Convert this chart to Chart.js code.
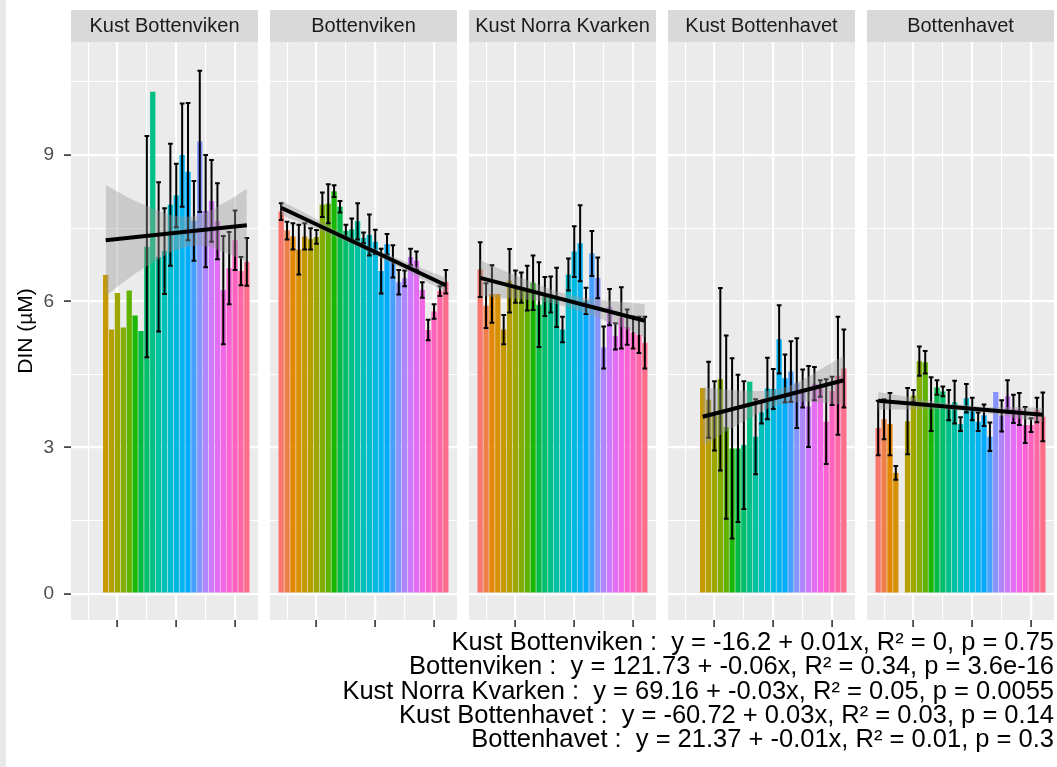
<!DOCTYPE html>
<html>
<head>
<meta charset="utf-8">
<script src="https://cdn.jsdelivr.net/npm/chart.js@4.4.1/dist/chart.umd.min.js"></script>
<style>
body { margin:0; background:#fff; width:1057px; height:767px; position:relative; overflow:hidden; font-family: Arial, "Liberation Sans", sans-serif; }
.edge { position:absolute; left:0; top:0; width:6px; height:767px; background:#e8e8e8; }
.panel { position:absolute; top:0; }
#eq { position:absolute; right:3px; top:629px; text-align:right; font-size:25.5px; line-height:24.3px; white-space:pre; color:#000; }
</style>
</head>
<body>
<div class="edge"></div>
<div class="panel" style="left:0"><canvas id="p0" width="258" height="632"></canvas></div>
<div class="panel" style="left:270px"><canvas id="p1" width="187" height="632"></canvas></div>
<div class="panel" style="left:469px"><canvas id="p2" width="187" height="632"></canvas></div>
<div class="panel" style="left:668px"><canvas id="p3" width="187" height="632"></canvas></div>
<div class="panel" style="left:867px"><canvas id="p4" width="187" height="632"></canvas></div>
<div id="eq"></div>
<script>
// YEARS AND REGIONS

const years = [1984,1985,1986,1987,1988,1989,1990,1991,1992,1993,1994,1995,1996,1997,1998,
               1999,2000,2001,2002,2003,2004,2005,2006,2007,2008,2009,2010,2011,2012];
const regions = ['Kust Bottenviken','Bottenviken','Kust Norra Kvarken','Kust Bottenhavet','Bottenhavet'];

// MEAN DIN (µM) PER YEAR, AND ERROR (HALF BAR)

const kustBottenvikenMean = [null,null,null,null,6.54,5.42,6.17,5.46,6.22,5.71,5.39,7.12,10.30,6.91,7.03,
                             7.98,8.17,9.00,8.66,7.65,9.28,7.85,8.06,7.64,6.23,6.68,7.25,6.62,6.81];
const kustBottenvikenErr  = [null,null,null,null,0,0,0,0,0,0,0,2.27,0,1.53,0.88,
                             1.25,0.65,1.06,1.41,0.82,1.45,1.15,0.84,0.78,1.11,0.74,0.61,0.29,0.49];

const bottenvikenMean = [7.84,7.45,7.33,7.06,7.33,7.28,7.32,7.98,8.00,8.26,7.94,7.44,7.48,7.64,7.30,
                         7.36,7.22,6.62,7.17,6.82,6.39,6.47,6.91,6.83,6.23,5.41,5.79,6.21,6.40];
const bottenvikenErr  = [0.17,0.18,0.27,0.51,0.27,0.22,0.14,0.25,0.40,0.12,0.12,0.13,0.22,0.37,0.11,
                         0.42,0.25,0.46,0.21,0.33,0.25,0.16,0.17,0.19,0.16,0.21,0.15,0.10,0.24];

const norraKvarkenMean = [6.65,5.91,6.15,6.15,5.42,6.42,6.30,6.28,6.27,6.38,5.93,6.10,6.14,6.08,5.42,
                          6.55,7.02,7.19,6.01,6.98,6.48,5.05,5.88,5.28,5.66,5.47,5.36,5.31,5.15];
const norraKvarkenErr  = [0.56,0.46,0.59,0,0.30,0.65,0.33,0.31,0.46,0.56,0.87,0.40,0.37,0.61,0.26,
                          0.33,0.52,0.78,0.27,0.46,0.42,0.43,0.37,0.27,0.63,0.36,0.33,0.37,0.53];

const kustBottenhavetMean = [null,null,null,null,4.22,3.98,3.65,4.40,3.42,2.98,2.98,3.05,4.35,3.22,3.72,
                             4.21,4.20,5.22,4.42,4.56,4.32,4.21,3.84,4.31,4.21,3.53,4.16,4.47,4.62];
const kustBottenhavetErr  = [null,null,null,null,0,0.78,0.71,1.87,1.88,1.85,1.51,1.31,0,0.77,0.23,
                             0.63,0.41,0.70,0.49,0.62,0.92,0.39,0.83,0.34,0.17,0.87,0.29,1.21,0.80];

const bottenhavetMean = [3.40,3.58,3.48,2.48,null,3.54,4.06,4.77,4.75,3.89,4.23,4.15,3.87,3.93,3.48,
                         4.01,3.79,3.53,3.66,3.22,4.14,3.65,4.05,3.79,3.79,3.46,3.46,3.77,3.63];
const bottenhavetErr  = [0.56,0.41,0.64,0.14,null,0.68,0.12,0.30,0.23,0.55,0.15,0.10,0.31,0.44,0.14,
                         0.29,0.23,0.19,0.22,0.29,0,0.32,0.33,0.29,0.33,0.37,0.14,0.25,0.50];

// LINEAR FIT (ENDPOINTS) AND CONFIDENCE BAND

const fitYears = [[1988,2012],[1984,2012],[1984,2012],[1988,2012],[1984,2012]];
const fitValues = [[7.25,7.56],[7.92,6.33],[6.48,5.60],[3.63,4.38],[3.96,3.67]];

const bandYears = [
    [1988,1992,1996,2000,2004,2008,2012],
    [1984,1989,1994,1998,2003,2008,2012],
    [1984,1989,1994,1998,2003,2008,2012],
    [1988,1992,1996,2000,2004,2008,2012],
    [1984,1989,1994,1998,2003,2008,2012]
];
const bandUpper = [
    [8.39,8.12,7.91,7.75,7.78,8.01,8.31],
    [8.07,7.75,7.42,7.18,6.92,6.67,6.48],
    [6.84,6.58,6.34,6.17,6.05,5.99,5.94],
    [4.23,4.19,4.16,4.18,4.33,4.60,4.88],
    [4.14,4.04,3.94,3.88,3.83,3.83,3.81]
];
const bandLower = [
    [6.11,6.48,6.79,7.05,7.14,7.01,6.81],
    [7.77,7.53,7.28,7.06,6.76,6.45,6.18],
    [6.12,6.06,6.00,5.91,5.71,5.47,5.26],
    [3.03,3.33,3.60,3.84,3.93,3.92,3.88],
    [3.78,3.78,3.78,3.76,3.69,3.59,3.53]
];

// AXES

const xGrid = [1985,1990,1995,2000,2005,2010];
const yGrid = [0,1.5,3,4.5,6,7.5,9,10.5];
const yLabels = [0,3,6,9];

const equations = [
    'Kust Bottenviken :  y = -16.2 + 0.01x, R\u00b2 = 0, p = 0.75',
    'Bottenviken :  y = 121.73 + -0.06x, R\u00b2 = 0.34, p = 3.6e-16',
    'Kust Norra Kvarken :  y = 69.16 + -0.03x, R\u00b2 = 0.05, p = 0.0055',
    'Kust Bottenhavet :  y = -60.72 + 0.03x, R\u00b2 = 0.03, p = 0.14',
    'Bottenhavet :  y = 21.37 + -0.01x, R\u00b2 = 0.01, p = 0.3'
];

const means = [kustBottenvikenMean, bottenvikenMean, norraKvarkenMean, kustBottenhavetMean, bottenhavetMean];
const errs = [kustBottenvikenErr, bottenvikenErr, norraKvarkenErr, kustBottenhavetErr, bottenhavetErr];


// ggplot hue palette (hcl, c=100, l=65)
function hcl(h, c, l) {
    const hr = h * Math.PI / 180;
    const U = c * Math.cos(hr), V = c * Math.sin(hr);
    const Xn = 95.047, Yn = 100, Zn = 108.883;
    const d = Xn + 15 * Yn + 3 * Zn;
    const un = 4 * Xn / d, vn = 9 * Yn / d;
    const Y = Yn * Math.pow((l + 16) / 116, 3);
    const u = U / (13 * l) + un, v = V / (13 * l) + vn;
    const X = 9 * Y * u / (4 * v);
    const Z = -X / 3 - 5 * Y + 3 * Y / v;
    const x = X / 100, y = Y / 100, z = Z / 100;
    const rgb = [
        3.240479 * x - 1.53715 * y - 0.498535 * z,
        -0.969256 * x + 1.875992 * y + 0.041556 * z,
        0.055648 * x - 0.204043 * y + 1.057311 * z
    ];
    const g = t => t <= 0.0031308 ? 12.92 * t : 1.055 * Math.pow(t, 1 / 2.4) - 0.055;
    const c8 = rgb.map(t => Math.round(255 * Math.min(1, Math.max(0, g(t)))));
    return 'rgb(' + c8.join(',') + ')';
}
const yearColors = years.map((y, i) => hcl(15 + 360 * i / years.length, 100, 65));

const isMajor = (v, step) => Math.abs(v / step - Math.round(v / step)) < 1e-6;


// strip background + panel background
const panelBg = {
    id: 'panelBg',
    beforeDraw(chart) {
        const { ctx, chartArea: a } = chart;
        ctx.save();
        ctx.fillStyle = '#d9d9d9';
        ctx.fillRect(a.left, 10, a.right - a.left, a.top - 10);
        ctx.fillStyle = '#ebebeb';
        ctx.fillRect(a.left, a.top, a.right - a.left, a.bottom - a.top);
        ctx.restore();
    }
};

// error bars, drawn just after the bars
const errorBars = {
    id: 'errorBars',
    afterDatasetDraw(chart, args) {
        if (args.index !== 0) return;
        const ds = chart.data.datasets[0];
        const xs = chart.scales.x, ys = chart.scales.y;
        const ctx = chart.ctx;
        ctx.save();
        ctx.strokeStyle = '#000';
        ctx.lineWidth = 2;
        ds.data.forEach((p, i) => {
            const e = ds.errors[i];
            if (!e) return;
            const x = xs.getPixelForValue(p.x);
            const hw = xs.getPixelForValue(p.x + 0.4) - x;
            const y1 = ys.getPixelForValue(p.y + e);
            const y2 = ys.getPixelForValue(p.y - e);
            ctx.beginPath();
            ctx.moveTo(x, y1); ctx.lineTo(x, y2);
            ctx.moveTo(x - hw, y1); ctx.lineTo(x + hw, y1);
            ctx.moveTo(x - hw, y2); ctx.lineTo(x + hw, y2);
            ctx.stroke();
        });
        ctx.restore();
    }
};

function makePanel(k) {
    const withAxis = k === 0;
    const barData = [], barColors = [], barErr = [];
    years.forEach((yr, i) => {
        if (means[k][i] === null) return;
        barData.push({ x: yr, y: means[k][i] });
        barColors.push(yearColors[i]);
        barErr.push(errs[k][i]);
    });

    new Chart(document.getElementById('p' + k), {
        type: 'bar',
        data: {
            datasets: [
                {
                    type: 'bar',
                    data: barData,
                    errors: barErr,
                    backgroundColor: barColors,
                    borderWidth: 0,
                    barPercentage: 0.9,
                    categoryPercentage: 1.0,
                    order: 3
                },
                {
                    type: 'line',
                    data: bandYears[k].map((y, i) => ({ x: y, y: bandUpper[k][i] })),
                    borderWidth: 0,
                    borderColor: 'rgba(0,0,0,0)',
                    pointRadius: 0,
                    tension: 0.4,
                    fill: '+1',
                    backgroundColor: 'rgba(153,153,153,0.4)',
                    order: 2
                },
                {
                    type: 'line',
                    data: bandYears[k].map((y, i) => ({ x: y, y: bandLower[k][i] })),
                    borderWidth: 0,
                    borderColor: 'rgba(0,0,0,0)',
                    pointRadius: 0,
                    tension: 0.4,
                    fill: false,
                    order: 2
                },
                {
                    type: 'line',
                    data: fitYears[k].map((y, i) => ({ x: y, y: fitValues[k][i] })),
                    borderColor: '#000',
                    borderWidth: 4,
                    pointRadius: 0,
                    fill: false,
                    order: 1
                }
            ]
        },
        options: {
            responsive: false,
            animation: false,
            events: [],
            layout: { padding: { top: 10, left: 0, right: 0, bottom: 0 } },
            plugins: {
                legend: { display: false },
                tooltip: { enabled: false },
                title: {
                    display: true,
                    text: regions[k],
                    fullSize: false,
                    color: '#1a1a1a',
                    font: { family: 'Arial', size: 20, weight: 'normal', lineHeight: 1.2 },
                    padding: { top: 4, bottom: 4 }
                }
            },
            scales: {
                x: {
                    type: 'linear',
                    offset: false,
                    min: 1982.1,
                    max: 2013.9,
                    afterBuildTicks: s => { s.ticks = xGrid.map(v => ({ value: v })); },
                    afterFit: s => { s.height = 12; s.paddingLeft = 0; s.paddingRight = 0; },
                    ticks: { callback: () => '', autoSkip: false, maxRotation: 0, padding: 0 },
                    grid: {
                        offset: false,
                        color: '#ffffff',
                        lineWidth: c => (c.tick && isMajor(c.tick.value, 10)) ? 2.2 : 1.1,
                        drawTicks: true,
                        tickLength: 7,
                        tickWidth: 1.6,
                        tickColor: c => (c.tick && isMajor(c.tick.value, 10)) ? '#333333' : 'rgba(0,0,0,0)'
                    },
                    border: { display: false }
                },
                y: {
                    min: -0.54,
                    max: 11.32,
                    afterBuildTicks: s => { s.ticks = yGrid.map(v => ({ value: v })); },
                    afterFit: s => { s.width = withAxis ? 71 : 0; s.paddingTop = 0; s.paddingBottom = 0; },
                    ticks: {
                        display: withAxis,
                        autoSkip: false,
                        callback: v => yLabels.includes(v) ? String(v) : '',
                        color: '#4d4d4d',
                        font: { family: 'Arial', size: 19 },
                        padding: 10
                    },
                    grid: {
                        color: '#ffffff',
                        lineWidth: c => (c.tick && isMajor(c.tick.value, 3)) ? 2.2 : 1.1,
                        drawTicks: withAxis,
                        tickLength: 7,
                        tickWidth: 1.6,
                        tickColor: c => (c.tick && isMajor(c.tick.value, 3)) ? '#333333' : 'rgba(0,0,0,0)'
                    },
                    border: { display: false },
                    title: {
                        display: withAxis,
                        text: 'DIN (\u00b5M)',
                        color: '#000',
                        font: { family: 'Arial', size: 21 },
                        padding: { top: 14, bottom: 0 }
                    }
                }
            }
        },
        plugins: [panelBg, errorBars]
    });
}

for (let k = 0; k < regions.length; k++) makePanel(k);

document.getElementById('eq').textContent = equations.join('\n');
</script>
</body>
</html>
